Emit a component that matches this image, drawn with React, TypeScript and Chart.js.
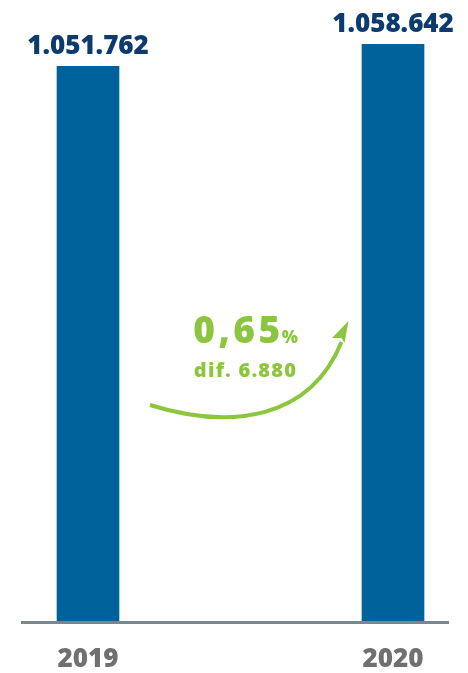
import React, { useEffect, useRef } from 'react';
import { Chart, registerables } from 'chart.js';

Chart.register(...registerables);

// ---- data ----
const categories: string[] = ['2019', '2020'];
const values: number[] = [1051762, 1058642];
const yMin = 878000;
const yMax = 1070000;

// ---- styles ----
const BAR_COLOR = '#00629b';
const VALUE_COLOR = '#0e3b6e';
const TICK_COLOR = '#707070';
const BASE_COLOR = '#7b8690';
const GREEN = '#8cc63f';
const FONT = '"Open Sans", "Noto Sans", sans-serif';

function fmt(n: number, decimals = 0): string {
  const fixed = Math.abs(n).toFixed(decimals);
  const [intPart, dec] = fixed.split('.');
  const intStr = intPart.replace(/\B(?=(\d{3})+(?!\d))/g, '.');
  return (n < 0 ? '-' : '') + (dec ? intStr + ',' + dec : intStr);
}

const overlay = {
  id: 'overlay',
  afterDatasetsDraw(chart: any) {
    const ctx: CanvasRenderingContext2D = chart.ctx;
    const meta = chart.getDatasetMeta(0);
    const ys = chart.scales.y;
    const base = ys.bottom;
    const b0 = meta.data[0];
    const b1 = meta.data[1];
    const half = b0.width / 2;
    ctx.save();

    // baseline
    ctx.strokeStyle = BASE_COLOR;
    ctx.lineWidth = 3;
    ctx.beginPath();
    ctx.moveTo(b0.x - half - 36, base + 1.5);
    ctx.lineTo(b1.x + half + 25, base + 1.5);
    ctx.stroke();

    // value labels
    ctx.fillStyle = VALUE_COLOR;
    ctx.font = `800 26px ${FONT}`;
    ctx.textAlign = 'center';
    ctx.textBaseline = 'alphabetic';
    (ctx as any).letterSpacing = '0px';
    meta.data.forEach((bar: any, i: number) => {
      ctx.fillText(fmt(values[i]), bar.x, bar.y - 12);
    });

    // difference annotation
    const diff = values[1] - values[0];
    const pct = (diff / values[0]) * 100;
    const mid = (b0.x + b1.x) / 2;
    ctx.fillStyle = GREEN;
    ctx.textAlign = 'left';
    const bigText = fmt(pct, 2);
    ctx.font = `800 37px ${FONT}`;
    (ctx as any).letterSpacing = '3.5px';
    const wBig = ctx.measureText(bigText).width;
    ctx.font = `800 17px ${FONT}`;
    (ctx as any).letterSpacing = '0px';
    const wPct = ctx.measureText('%').width;
    const startX = mid + 6 - (wBig + wPct) / 2;
    ctx.font = `800 37px ${FONT}`;
    (ctx as any).letterSpacing = '3.5px';
    ctx.fillText(bigText, startX, base - 278);
    ctx.font = `800 17px ${FONT}`;
    (ctx as any).letterSpacing = '0px';
    ctx.fillText('%', startX + wBig - 2, base - 278);

    ctx.textAlign = 'center';
    ctx.font = `800 20px ${FONT}`;
    (ctx as any).letterSpacing = '1.2px';
    ctx.fillText('dif. ' + fmt(diff), mid + 5, base - 244);
    (ctx as any).letterSpacing = '0px';

    // curved arrow
    ctx.strokeStyle = GREEN;
    ctx.lineWidth = 4;
    ctx.lineCap = 'butt';
    ctx.beginPath();
    ctx.moveTo(mid - 90.5, base - 216);
    ctx.bezierCurveTo(mid - 10.5, base - 191, mid + 69.5, base - 201, mid + 101, base - 279);
    ctx.stroke();
    // arrow head
    ctx.fillStyle = GREEN;
    ctx.beginPath();
    ctx.moveTo(mid + 108, base - 300);
    ctx.lineTo(mid + 104, base - 278);
    ctx.lineTo(mid + 101, base - 283);
    ctx.lineTo(mid + 91.5, base - 283);
    ctx.closePath();
    ctx.fill();
    ctx.restore();
  },
};

export default function App() {
  const ref = useRef<HTMLCanvasElement | null>(null);

  useEffect(() => {
    if (!ref.current) return;
    const chart = new Chart(ref.current, {
      type: 'bar',
      data: {
        labels: categories,
        datasets: [
          {
            data: values,
            base: yMin,
            backgroundColor: BAR_COLOR,
            borderWidth: 0,
            barThickness: 62,
            clip: false as any,
          } as any,
        ],
      },
      options: {
        animation: false,
        responsive: true,
        maintainAspectRatio: false,
        layout: { padding: { top: 8, left: 88, right: 75, bottom: 0 } },
        plugins: {
          legend: { display: false },
          tooltip: { enabled: false },
        },
        scales: {
          x: {
            offset: false,
            grid: { display: false, drawTicks: false },
            border: { display: false },
            ticks: {
              color: TICK_COLOR,
              font: { family: FONT, size: 26, weight: '800' as any },
              padding: 23,
              maxRotation: 0,
            },
            afterFit: (scale: any) => {
              scale.height = 52;
            },
          },
          y: {
            display: false,
            min: yMin,
            max: yMax,
          },
        },
      },
      plugins: [overlay],
    });
    return () => chart.destroy();
  }, []);

  return (
    <div style={{ position: 'absolute', left: 0, top: 0, width: 468, height: 673 }}>
      <canvas ref={ref} />
    </div>
  );
}
